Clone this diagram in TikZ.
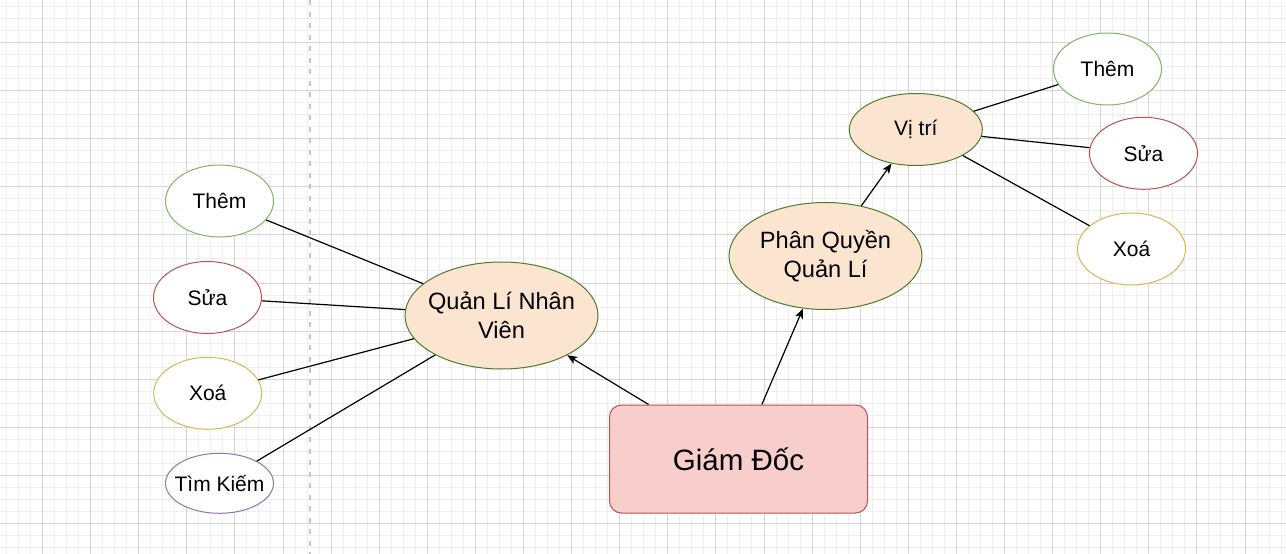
\documentclass[tikz,border=0pt]{standalone}
\usepackage{fontspec}
\setmainfont{Liberation Sans}
\usetikzlibrary{shapes.geometric,arrows.meta}

\definecolor{gridminor}{HTML}{EFEFEF}
\definecolor{gridmajor}{HTML}{D6D6D6}
\definecolor{splitgray}{HTML}{C4C4C4}
\definecolor{bossfill}{HTML}{F8CECC}
\definecolor{bossline}{HTML}{B85450}
\definecolor{topicfill}{HTML}{FBE5D0}
\definecolor{topicline}{HTML}{4B7D2A}
\definecolor{addline}{HTML}{82B366}
\definecolor{editline}{HTML}{B85450}
\definecolor{delline}{HTML}{D6B656}
\definecolor{findline}{HTML}{9673A6}

\begin{document}
\begin{tikzpicture}[-,>={Stealth[length=10pt,width=8pt,inset=2.5pt]},x=1pt,y=-1pt,
                    line width=1pt]
  \tikzstyle{child}=[ellipse,draw,fill=white,minimum width=108pt,minimum height=72pt,
                     inner xsep=-8pt,inner ysep=0pt,font=\fontsize{21}{25}\selectfont]
  \tikzstyle{topic}=[ellipse,draw=topicline,fill=topicfill,minimum width=193pt,
                     minimum height=107pt,inner xsep=-8pt,inner ysep=0pt,align=center,
                     font=\fontsize{23.6}{29}\selectfont]
  \tikzstyle{boss}=[rectangle,rounded corners=12pt,draw=bossline,fill=bossfill,
                    minimum width=258pt,minimum height=108pt,font=\fontsize{29.5}{34}\selectfont]
  \tikzstyle{link}=[line width=1.2pt,black]

  % background grid
  \fill[white] (0,0) rectangle (1286,554);
  \useasboundingbox (0,0) rectangle (1286,554);
  \foreach \i in {0,...,106}
    \draw[gridminor] (6.425+12.025*\i,0) -- (6.425+12.025*\i,554);
  \foreach \i in {0,...,45}
    \draw[gridminor] (0,6.425+12.025*\i) -- (1286,6.425+12.025*\i);
  \foreach \i in {0,...,25}
    \draw[gridmajor] (42.5+48.1*\i,0) -- (42.5+48.1*\i,554);
  \foreach \i in {0,...,10}
    \draw[gridmajor] (0,42.5+48.1*\i) -- (1286,42.5+48.1*\i);
  \draw[splitgray,line width=2pt,dash pattern=on 5pt off 6.5pt] (310,0) -- (310,554);

  \node[boss]                                    (G)  at (738.5,459)  {Giám Đốc};
  \node[topic]                                   (Q)  at (501.5,315.5) {Quản Lí Nhân\\Viên};
  \node[topic]                                   (P)  at (825.5,256)  {Phân Quyền\\Quản Lí};
  \node[topic] [minimum width=133pt,minimum height=72pt,font=\fontsize{21}{25}\selectfont]
                                                 (V)  at (915.8,129.5) {Vị trí};

  \node[child] [draw=addline]                    (Q1) at (219.5,201)  {Thêm};
  \node[child] [draw=editline]                   (Q2) at (207.5,297.5) {Sửa};
  \node[child] [draw=delline]                    (Q3) at (207.7,393.3) {Xoá};
  \node[child] [draw=findline,minimum height=60pt] (Q4) at (219.5,483.3) {Tìm Kiếm};

  \node[child] [draw=addline]                    (V1) at (1107.5,69)  {Thêm};
  \node[child] [draw=editline]                   (V2) at (1143.5,153.3) {Sửa};
  \node[child] [draw=delline]                    (V3) at (1131.5,249) {Xoá};

  \path[link,->] (G) edge (Q)
                     edge (P)
                 (P) edge (V);
  \path[link]    (Q) edge (Q1)
                     edge (Q2)
                     edge (Q3)
                     edge (Q4)
                 (V) edge (V1)
                     edge (V2)
                     edge (V3);
\end{tikzpicture}
\end{document}
